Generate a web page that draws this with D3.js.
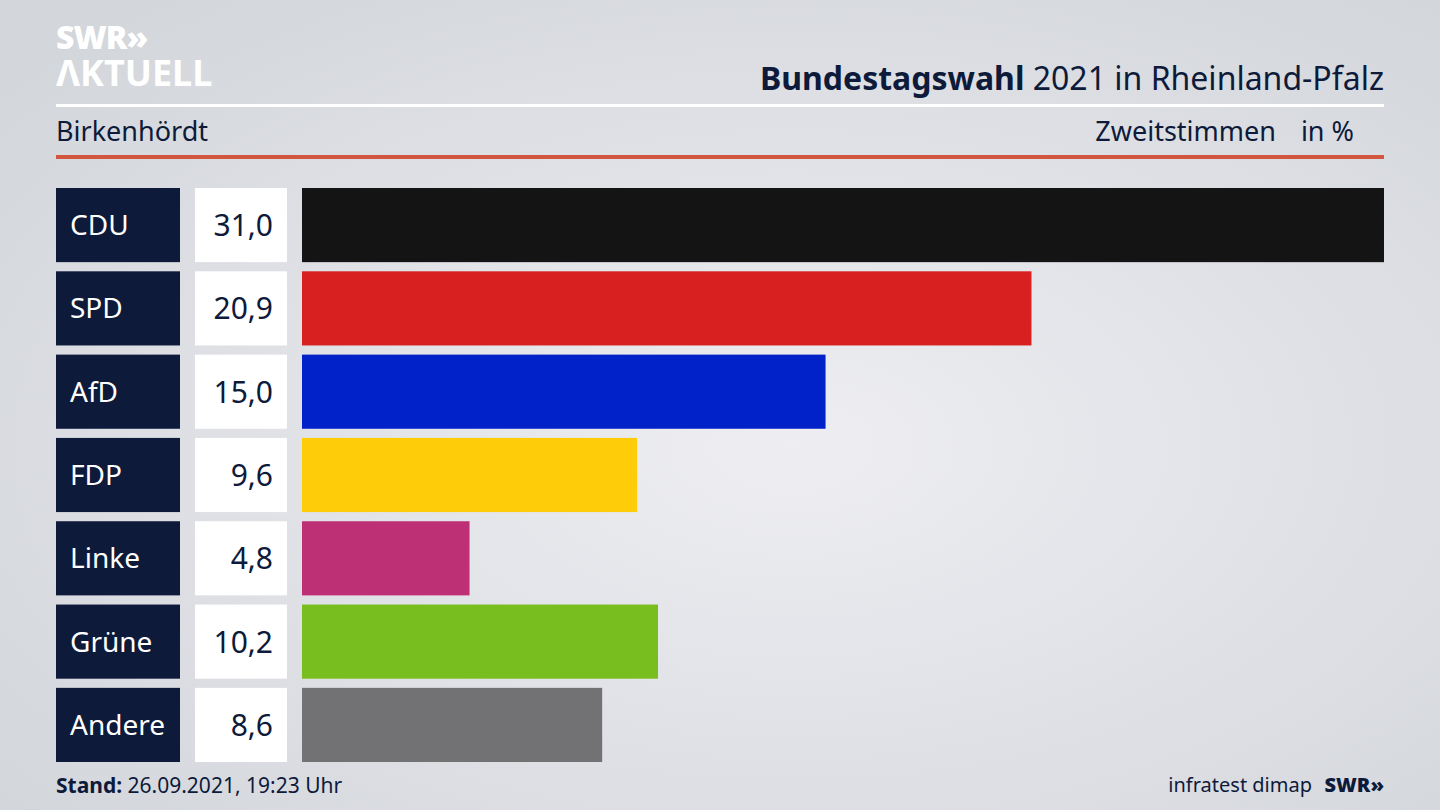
<!DOCTYPE html>
<html><head><meta charset="utf-8">
<script src="https://cdn.jsdelivr.net/npm/d3@7"></script>
<style>body{margin:0;}svg{display:block;}</style>
</head><body>
<div id="chart"></div>
<script>
const parties = ['CDU', 'SPD', 'AfD', 'FDP', 'Linke', 'Grüne', 'Andere'];
const values = [31.0, 20.9, 15.0, 9.6, 4.8, 10.2, 8.6];
const colors = ['#141414', '#d82020', '#0022c8', '#ffcc0a', '#be3075', '#78be1e', '#727274'];

const W = 1440, H = 810, ink = '#0d1a3a';
const font = '"Noto Sans", "Open Sans", sans-serif';
const svg = d3.select('#chart').append('svg').attr('width', W).attr('height', H);

const defs = svg.append('defs');
const grad = defs.append('radialGradient').attr('id', 'bg').attr('cx', '55%').attr('cy', '55%').attr('r', '70%');
grad.append('stop').attr('offset', '0%').attr('stop-color', '#eeeef2');
grad.append('stop').attr('offset', '100%').attr('stop-color', '#d3d6db');
svg.append('rect').attr('width', W).attr('height', H).attr('fill', 'url(#bg)');

// logo
svg.append('text').attr('x', 56).attr('y', 49).attr('fill', '#fff').attr('font-family', font)
  .attr('font-weight', 900).attr('font-size', 32).attr('letter-spacing', -1).text('SWR»');
svg.append('text').attr('x', 56).attr('y', 86).attr('fill', '#fff').attr('font-family', font)
  .attr('font-weight', 700).attr('font-size', 36).text('ΛKTUELL');

// header
const title = svg.append('text').attr('x', 1384).attr('y', 90).attr('text-anchor', 'end')
  .attr('fill', ink).attr('font-family', font).attr('font-size', 32);
title.append('tspan').attr('font-weight', 700).text('Bundestagswahl');
title.append('tspan').text(' 2021 in Rheinland-Pfalz');
svg.append('rect').attr('x', 56).attr('y', 104).attr('width', 1328).attr('height', 3).attr('fill', '#fff');
svg.append('text').attr('x', 56).attr('y', 141).attr('fill', ink).attr('font-family', font).attr('font-size', 27).text('Birkenhördt');
svg.append('text').attr('x', 1276).attr('y', 141).attr('text-anchor', 'end').attr('fill', ink).attr('font-family', font).attr('font-size', 27).text('Zweitstimmen');
svg.append('text').attr('x', 1354).attr('y', 141).attr('text-anchor', 'end').attr('fill', ink).attr('font-family', font).attr('font-size', 27).text('in %');
svg.append('rect').attr('x', 56).attr('y', 155).attr('width', 1328).attr('height', 4).attr('fill', '#d2553f');

// bars
const y = d3.scaleBand().domain(parties).range([188, 762]).paddingInner(0.11);
const x = d3.scaleLinear().domain([0, d3.max(values)]).range([302, 1384]);
const fmt = v => d3.format('.1f')(v).replace('.', ',');

const rows = svg.selectAll('g.row').data(parties).join('g').attr('class', 'row');
rows.append('rect').attr('x', 56).attr('y', d => y(d)).attr('width', 124).attr('height', y.bandwidth()).attr('fill', '#0d1a3a');
rows.append('text').attr('x', 70).attr('y', d => y(d) + y.bandwidth() / 2 + 10).attr('fill', '#fff')
  .attr('font-family', font).attr('font-size', 28).text(d => d);
rows.append('rect').attr('x', 195).attr('y', d => y(d)).attr('width', 92).attr('height', y.bandwidth()).attr('fill', '#fff');
rows.append('text').attr('x', 273).attr('y', d => y(d) + y.bandwidth() / 2 + 11).attr('text-anchor', 'end').attr('fill', ink)
  .attr('font-family', font).attr('font-size', 30).text((d, i) => fmt(values[i]));
rows.append('rect').attr('x', x(0)).attr('y', d => y(d)).attr('width', (d, i) => x(values[i]) - x(0))
  .attr('height', y.bandwidth()).attr('fill', (d, i) => colors[i]);

// footer
const st = svg.append('text').attr('x', 56).attr('y', 793).attr('fill', ink).attr('font-family', font).attr('font-size', 21);
st.append('tspan').attr('font-weight', 700).text('Stand:');
st.append('tspan').text(' 26.09.2021, 19:23 Uhr');
svg.append('text').attr('x', 1312).attr('y', 792).attr('text-anchor', 'end').attr('fill', ink).attr('font-family', font).attr('font-size', 20).text('infratest dimap');
svg.append('text').attr('x', 1384).attr('y', 792).attr('text-anchor', 'end').attr('fill', ink).attr('font-family', font).attr('font-weight', 900).attr('font-size', 20).text('SWR»');
</script>
</body></html>
